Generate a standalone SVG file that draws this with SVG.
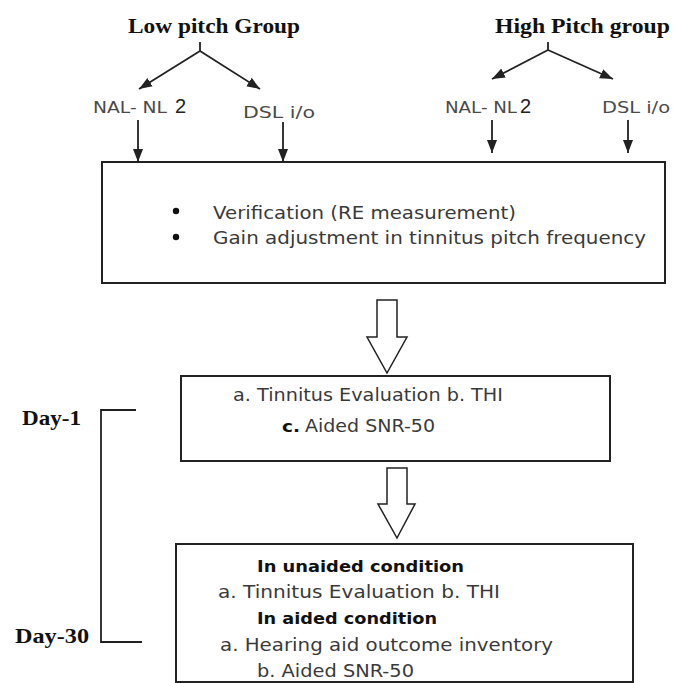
<svg xmlns="http://www.w3.org/2000/svg" width="673" height="683" viewBox="0 0 673 683">
<style>
.bg{fill:#ffffff}
.box{fill:#ffffff;stroke:#222;stroke-width:2}
.ln{fill:none;stroke:#222;stroke-width:1.8}
.hollow{fill:#ffffff;stroke:#222;stroke-width:1.5;stroke-linejoin:miter}
.hdr{font-family:"Liberation Serif","Times New Roman",serif;font-weight:bold;font-size:22px;fill:#111}
.day{font-family:"Liberation Serif","Times New Roman",serif;font-weight:bold;font-size:21px;fill:#111}
.lab{font-family:"DejaVu Sans","Liberation Sans",sans-serif;font-size:16px;fill:#4a4a4a}
.num{font-family:"Liberation Sans",Arial,sans-serif;font-size:20px;fill:#222}
.body{font-family:"DejaVu Sans","Liberation Sans",sans-serif;font-size:17px;fill:#3a3a3a}
.bold{font-family:"DejaVu Sans","Liberation Sans",sans-serif;font-size:16px;font-weight:bold;fill:#111}
.dot{fill:#111}
</style>
<defs>
<marker id="ah" markerUnits="userSpaceOnUse" markerWidth="14" markerHeight="12" refX="13" refY="5" orient="auto" viewBox="0 0 14 10">
<path d="M0,0 L13,5 L0,10 z" fill="#222"/>
</marker>
</defs>
<rect class="bg" x="0" y="0" width="673" height="683"/>

<g id="low-pitch-group">
<text class="hdr" x="128" y="33" textLength="172" lengthAdjust="spacingAndGlyphs">Low pitch Group</text>
</g>
<g id="high-pitch-group">
<text class="hdr" x="495" y="33" textLength="175" lengthAdjust="spacingAndGlyphs">High Pitch group</text>
</g>
<g id="low-nal">
<text class="lab" x="93" y="113" textLength="74" lengthAdjust="spacingAndGlyphs">NAL- NL</text>
<text class="num" x="175" y="113">2</text>
</g>
<g id="low-dsl">
<text class="lab" x="243" y="118" textLength="72" lengthAdjust="spacingAndGlyphs">DSL i/o</text>
</g>
<g id="high-nal">
<text class="lab" x="445" y="113" textLength="72" lengthAdjust="spacingAndGlyphs">NAL- NL</text>
<text class="num" x="520" y="113">2</text>
</g>
<g id="high-dsl">
<text class="lab" x="602" y="113" textLength="68" lengthAdjust="spacingAndGlyphs">DSL i/o</text>
</g>

<g id="fitting-box">
<rect class="box" x="102" y="162" width="563" height="121"/>
<circle class="dot" cx="176" cy="211" r="3.2"/>
<circle class="dot" cx="176" cy="237" r="3.2"/>
<text class="body" x="213" y="219" textLength="303" lengthAdjust="spacingAndGlyphs">Verification (RE measurement)</text>
<text class="body" x="213" y="244" textLength="433" lengthAdjust="spacingAndGlyphs">Gain adjustment in tinnitus pitch frequency</text>
</g>

<g id="day1-box">
<rect class="box" x="181" y="376" width="429" height="85"/>
<text class="body" x="233" y="401" textLength="270" lengthAdjust="spacingAndGlyphs">a. Tinnitus Evaluation b. THI</text>
<text class="bold" x="282" y="432" textLength="18" lengthAdjust="spacingAndGlyphs">c.</text>
<text class="body" x="305" y="432" textLength="130" lengthAdjust="spacingAndGlyphs">Aided SNR-50</text>
</g>

<g id="day30-box">
<rect class="box" x="176" y="544" width="457" height="138"/>
<text class="bold" x="257" y="572" textLength="207" lengthAdjust="spacingAndGlyphs">In unaided condition</text>
<text class="body" x="218" y="598" textLength="282" lengthAdjust="spacingAndGlyphs">a. Tinnitus Evaluation b. THI</text>
<text class="bold" x="257" y="624" textLength="180" lengthAdjust="spacingAndGlyphs">In aided condition</text>
<text class="body" x="220" y="651" textLength="333" lengthAdjust="spacingAndGlyphs">a. Hearing aid outcome inventory</text>
<text class="body" x="257" y="677" textLength="157" lengthAdjust="spacingAndGlyphs">b. Aided SNR-50</text>
</g>

<g id="timeline">
<text class="day" x="22" y="425" textLength="59" lengthAdjust="spacingAndGlyphs">Day-1</text>
<text class="day" x="15" y="643" textLength="74" lengthAdjust="spacingAndGlyphs">Day-30</text>
<path class="ln" d="M136,410 H101 V642 H142"/>
</g>

<g id="connectors">
<path class="ln" d="M200,42 V51"/>
<path class="ln" d="M200,51 L139,89" marker-end="url(#ah)"/>
<path class="ln" d="M200,51 L260,89" marker-end="url(#ah)"/>
<path class="ln" d="M548,42 V50"/>
<path class="ln" d="M548,50 L492,79" marker-end="url(#ah)"/>
<path class="ln" d="M548,50 L613,79" marker-end="url(#ah)"/>
<path class="ln" d="M138,120 V162" marker-end="url(#ah)"/>
<path class="ln" d="M283,122 V162" marker-end="url(#ah)"/>
<path class="ln" d="M492,120 V153" marker-end="url(#ah)"/>
<path class="ln" d="M628,120 V153" marker-end="url(#ah)"/>
<polygon class="hollow" points="377,300 397,300 397,337 407,337 387,373 367,337 377,337"/>
<polygon class="hollow" points="387,468 407,468 407,504 415,504 397,538 378,504 387,504"/>
</g>
</svg>
